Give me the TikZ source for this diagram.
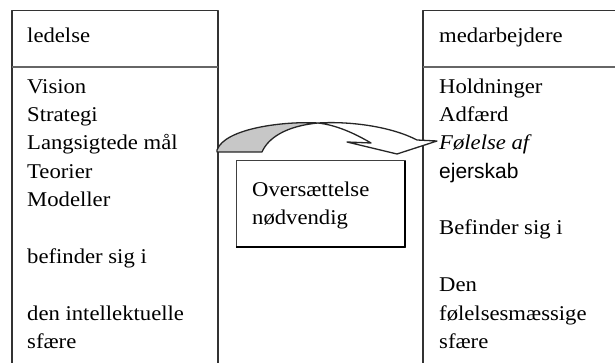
\documentclass[tikz,border=0pt]{standalone}
\usepackage{fontspec}
\setmainfont{Liberation Serif}[FakeStretch=1.08]
\newfontfamily\sansf{Liberation Sans}[FakeStretch=1.0]
\begin{document}
\begin{tikzpicture}[x=1pt,y=-1pt,line join=round,
  txt/.style={anchor=base west,inner sep=0pt,font=\fontsize{21}{28}\selectfont},
  boxline/.style={draw=black!80,line width=1.4pt},
  sepline/.style={draw=black!60,line width=1.8pt},
  ribbon/.style={draw=black!85,line width=1.3pt}]
\useasboundingbox (0,0) rectangle (615,363);
\clip (0,0) rectangle (615,363);
\fill[white] (0,0) rectangle (615,363);
% left box
\draw[boxline] (12,380) -- (12,10.5) -- (218,10.5) -- (218,380);
\draw[sepline] (12,67) -- (218,67);
% right box
\draw[boxline] (630,10.5) -- (423,10.5) -- (423,380);
\draw[sepline] (423,67) -- (630,67);
% left texts
\node[txt] (lhead) at (27,43) {ledelse};
\node[txt] (l1) at (27,94) {Vision};
\node[txt] (l2) at (27,122) {Strategi};
\node[txt] (l3) at (27,150) {Langsigtede mål};
\node[txt] (l4) at (27,179) {Teorier};
\node[txt] (l5) at (27,207) {Modeller};
\node[txt] (l7) at (27,263) {befinder sig i};
\node[txt] (l9) at (27,320) {den intellektuelle};
\node[txt] (l10) at (27,348) {sfære};
% right texts
\node[txt] (rhead) at (439,43) {medarbejdere};
\node[txt] (r1) at (439,94) {Holdninger};
\node[txt] (r2) at (439,122) {Adfærd};
\node[txt] (r3) at (439,150) {\itshape Følelse af};
\node[txt] (r4) at (439,179) {\sansf ejerskab};
\node[txt] (r6) at (439,235) {Befinder sig i};
\node[txt] (r8) at (439,291) {Den};
\node[txt] (r9) at (439,320) {følelsesmæssige};
\node[txt] (r10) at (439,348) {sfære};
% middle box
\draw[draw=black!75,line width=1pt] (236,161) rectangle (405,247);
\draw[black,line width=2.2pt] (236,247) -- (405,247) -- (405,161);
\node[txt] (m1) at (252,197) {Oversættelse};
\node[txt] (m2) at (252,225) {nødvendig};
% curved arrow
\coordinate (P) at (318,123);
\filldraw[ribbon,fill=black!22] (217,152) -- (262,152)
  .. controls (268,138) and (286,126) .. (P)
  .. controls (285,121) and (225,128) .. (217,150) -- cycle;
\filldraw[ribbon,fill=white] (P)
  .. controls (352,121) and (392,127) .. (417,140)
  -- (437,141) -- (397,154) -- (347,142) -- (371,143)
  .. controls (354,133) and (336,125) .. (P);
\end{tikzpicture}
\end{document}
